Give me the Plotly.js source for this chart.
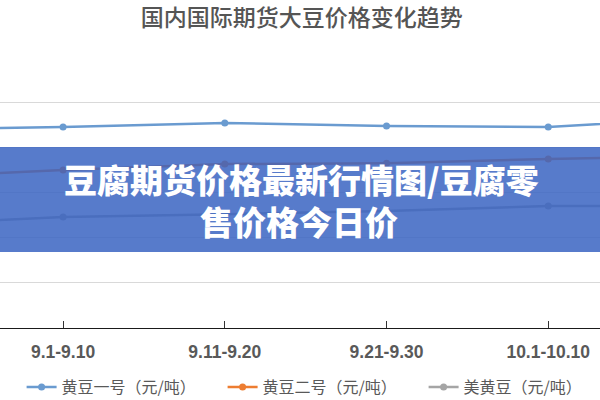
<!DOCTYPE html>
<html>
<head>
<meta charset="utf-8">
<script src="https://cdn.plot.ly/plotly-3.0.1.min.js"></script>
<style>html,body{margin:0;padding:0;background:#fff;}#chart{width:600px;height:400px;}</style>
</head>
<body>
<div id="chart"></div>
<script>
// Data (yuan per ton); outer periods are cut off by the frame
const categories = ["8.21-8.31", "9.1-9.10", "9.11-9.20", "9.21-9.30", "10.1-10.10", "10.11-10.20"];
const soybeanNo1 = [4390, 4450, 4540, 4470, 4450, 4660];
const soybeanNo2 = [3320, 3500, 3630, 3650, 3740, 3810];
const usSoybean  = [2280, 2460, 2520, 2590, 2700, 2700];
const seriesNames = ["黄豆一号（元/吨）", "黄豆二号（元/吨）", "美黄豆（元/吨）"];
const chartTitle = "国内国际期货大豆价格变化趋势";
const bannerLine1 = "豆腐期货价格最新行情图/豆腐零";
const bannerLine2 = "售价格今日价";

const colors = ["#6a9bd0", "#ed7d31", "#a5a5a5"];
const seriesValues = [soybeanNo1, soybeanNo2, usSoybean];

const traces = seriesValues.map((vals, i) => ({
  type: "scatter",
  mode: "lines+markers",
  name: seriesNames[i],
  x: categories,
  y: vals,
  line: {color: colors[i], width: 2.5},
  marker: {color: colors[i], size: 7}
}));

const layout = {
  width: 600, height: 400,
  paper_bgcolor: "#ffffff", plot_bgcolor: "#ffffff",
  margin: {l: 0, r: 0, t: 57, b: 72, pad: 0, autoexpand: false},
  title: {
    text: chartTitle,
    x: 0.503, xanchor: "center",
    y: 0.955, yanchor: "middle",
    font: {family: "Noto Sans CJK SC", size: 23, color: "#555555", weight: 500}
  },
  xaxis: {
    type: "category",
    range: [0.61, 4.32],
    showline: true, linecolor: "#1a1a1a", linewidth: 1,
    ticks: "inside", ticklen: 7, tickcolor: "#333333", tickwidth: 1,
    showgrid: false, zeroline: false,
    tickfont: {family: "Liberation Sans", size: 17.5, color: "#595959", weight: "bold"},
    ticklabelstandoff: 8,
    automargin: false
  },
  yaxis: {
    range: [0, 6000], dtick: 1000,
    showticklabels: false, showline: false, zeroline: false,
    gridcolor: "#d9d9d9", gridwidth: 1,
    automargin: false
  },
  showlegend: true,
  legend: {
    orientation: "h",
    x: 0.036, xanchor: "left",
    y: -0.218, yanchor: "middle",
    entrywidth: 156, entrywidthmode: "pixels",
    font: {family: "Noto Sans CJK SC", size: 16, color: "#595959"},
    bgcolor: "rgba(0,0,0,0)"
  },
  shapes: [{
    type: "rect", layer: "above",
    xref: "paper", yref: "paper",
    x0: -0.01, x1: 1.01, y0: 0.2804, y1: 0.668,
    fillcolor: "#3a64c2", opacity: 0.85,
    line: {width: 0}
  }],
  annotations: [
    {
      xref: "paper", yref: "paper", x: 0.502, y: 0.55,
      xanchor: "center", yanchor: "middle", showarrow: false,
      text: bannerLine1,
      font: {family: "Noto Sans CJK SC", size: 33, color: "#ffffff", weight: 900}
    },
    {
      xref: "paper", yref: "paper", x: 0.498, y: 0.393,
      xanchor: "center", yanchor: "middle", showarrow: false,
      text: bannerLine2,
      font: {family: "Noto Sans CJK SC", size: 33, color: "#ffffff", weight: 900}
    }
  ]
};

Plotly.newPlot("chart", traces, layout, {displayModeBar: false, staticPlot: true});
</script>
</body>
</html>
